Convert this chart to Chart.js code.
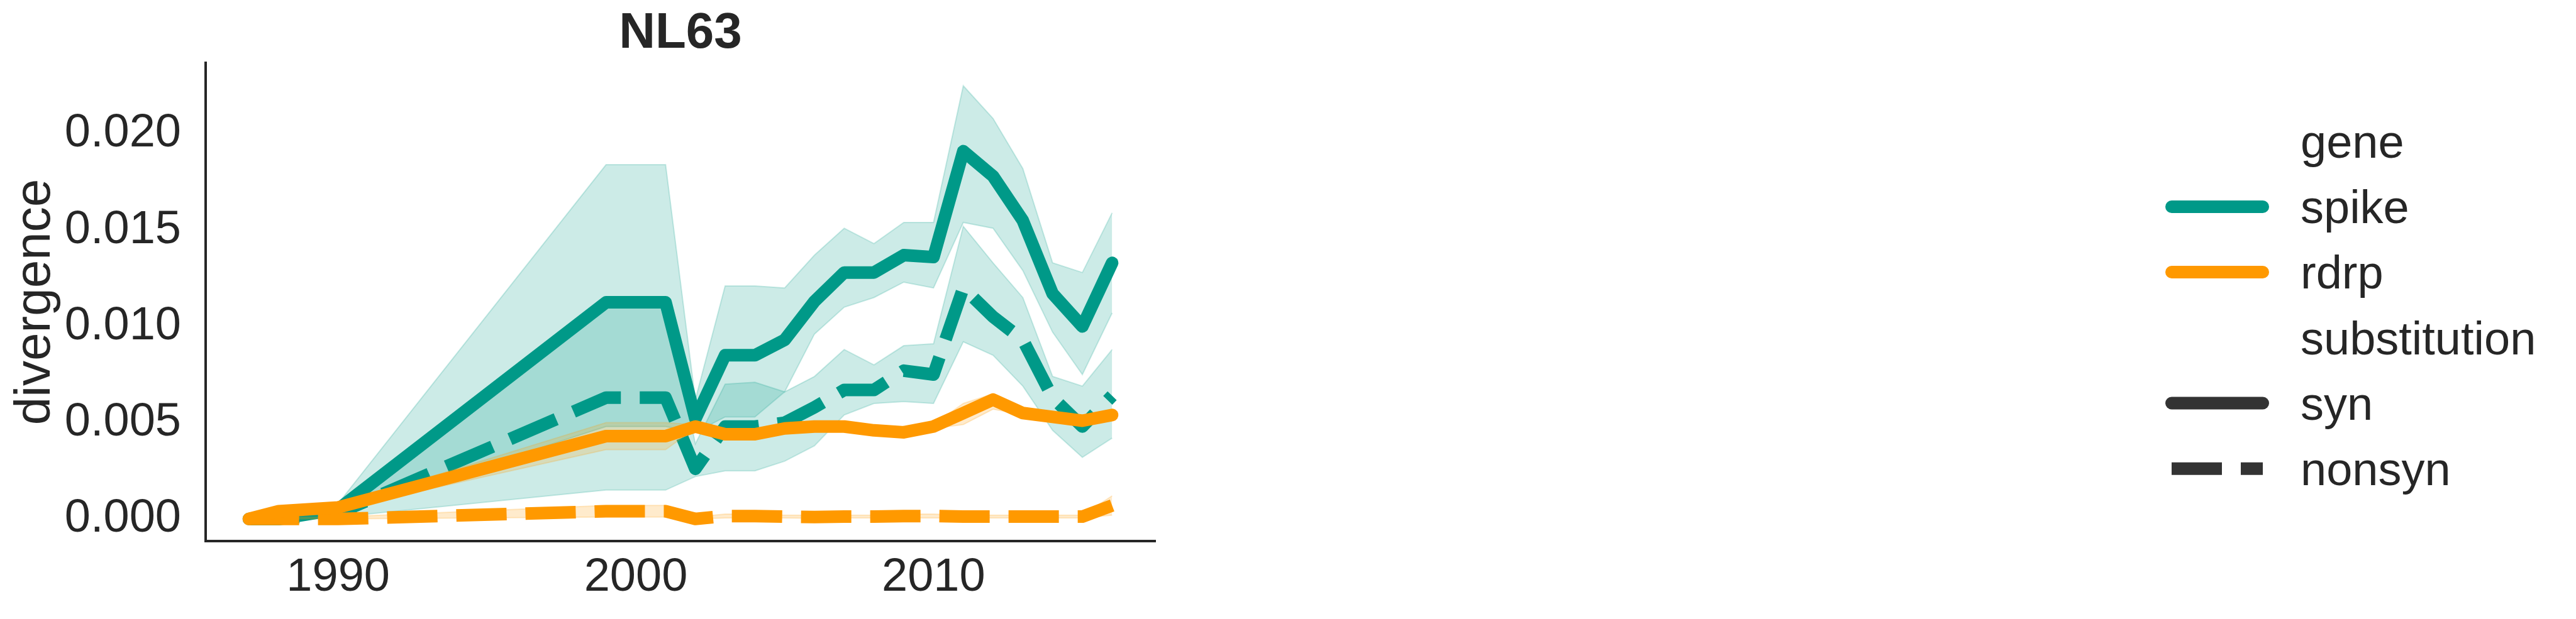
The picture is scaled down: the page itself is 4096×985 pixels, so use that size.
<!DOCTYPE html>
<html>
<head>
<meta charset="utf-8">
<script src="https://cdn.jsdelivr.net/npm/chart.js@4.4.1/dist/chart.umd.min.js"></script>
<style>
html,body{margin:0;padding:0;background:#ffffff;overflow:hidden}
#wrap{position:relative;width:4096px;height:985px}
</style>
</head>
<body>
<div id="wrap"><canvas id="c" width="4096" height="985"></canvas></div>
<script>
// ---------------- data ----------------
const years = [1987, 1988, 1990, 1999, 2001, 2002, 2003, 2004, 2005, 2006, 2007, 2008, 2009, 2010, 2011, 2012, 2013, 2014, 2015, 2016];

const spikeSyn   = [0.0000, 0.0000, 0.0005, 0.01125, 0.01125, 0.0052, 0.0085, 0.0085, 0.0093, 0.0113, 0.0128, 0.0128, 0.0137, 0.0136, 0.0191, 0.0178, 0.0155, 0.0117, 0.0100, 0.0133];
const spikeSynHi = [0.0000, 0.0000, 0.0008, 0.0184, 0.0184, 0.0062, 0.0121, 0.0121, 0.0120, 0.0137, 0.0151, 0.0143, 0.0154, 0.0154, 0.0225, 0.0208, 0.0182, 0.0133, 0.0128, 0.0159];
const spikeSynLo = [0.0000, 0.0000, 0.0003, 0.0048, 0.0048, 0.0045, 0.0053, 0.0053, 0.0066, 0.0096, 0.0110, 0.0115, 0.0123, 0.0120, 0.0154, 0.0151, 0.0129, 0.0097, 0.0075, 0.0107];

const spikeNon   = [0.0000, 0.0000, 0.0003, 0.0063, 0.0063, 0.0026, 0.0048, 0.0048, 0.0050, 0.0058, 0.0067, 0.0067, 0.0077, 0.0075, 0.0120, 0.0105, 0.0093, 0.0063, 0.0048, 0.0064];
const spikeNonHi = [0.0000, 0.0000, 0.0005, 0.0113, 0.0113, 0.0039, 0.0070, 0.0071, 0.0066, 0.0074, 0.0088, 0.0080, 0.0090, 0.0091, 0.0152, 0.0133, 0.0115, 0.0074, 0.0069, 0.0088];
const spikeNonLo = [0.0000, 0.0000, 0.0001, 0.0015, 0.0015, 0.0022, 0.0025, 0.0025, 0.0030, 0.0038, 0.0054, 0.0060, 0.0061, 0.0060, 0.0092, 0.0085, 0.0069, 0.0046, 0.0032, 0.0042];

const rdrpSyn    = [0.0000, 0.0004, 0.0006, 0.0043, 0.0043, 0.0048, 0.0044, 0.0044, 0.0047, 0.0048, 0.0048, 0.0046, 0.0045, 0.0048, 0.0055, 0.0062, 0.0055, 0.0053, 0.0051, 0.0054];
const rdrpSynHi  = [0.0000, 0.0005, 0.0007, 0.0050, 0.0050, 0.0049, 0.0045, 0.0045, 0.0048, 0.0049, 0.0049, 0.0047, 0.0046, 0.0049, 0.0060, 0.0065, 0.0056, 0.0054, 0.0052, 0.0055];
const rdrpSynLo  = [0.0000, 0.0003, 0.0005, 0.0036, 0.0036, 0.0047, 0.0043, 0.0043, 0.0046, 0.0047, 0.0047, 0.0045, 0.0044, 0.0047, 0.0049, 0.0057, 0.0054, 0.0052, 0.0050, 0.0053];

const rdrpNon    = [0.0000, 0.0000, 0.0000, 0.0004, 0.0004, 0.0000, 0.00015, 0.00015, 0.00012, 0.0001, 0.00012, 0.00012, 0.00015, 0.00015, 0.00012, 0.00012, 0.00012, 0.00012, 0.00012, 0.0007];
const rdrpNonHi  = [0.0000, 0.0001, 0.0001, 0.0007, 0.0007, 0.0001, 0.00025, 0.00025, 0.0002, 0.0002, 0.0002, 0.0002, 0.00025, 0.00025, 0.0002, 0.0002, 0.0002, 0.0002, 0.0002, 0.0012];
const rdrpNonLo  = [0.0000, 0.0000, 0.0000, 0.0001, 0.0001, 0.0000, 0.00005, 0.00005, 0.00005, 0.00003, 0.00005, 0.00005, 0.00005, 0.00005, 0.00005, 0.00005, 0.00005, 0.00005, 0.00005, 0.0002];

const xTickValues = [1990, 2000, 2010];
const yTickValues = [0.000, 0.005, 0.010, 0.015, 0.020];
const genes = ['spike', 'rdrp'];
const substitutions = ['syn', 'nonsyn'];
const chartTitle = 'NL63';
const yAxisLabel = 'divergence';
const geneHeader = 'gene';
const substitutionHeader = 'substitution';

// ---------------- styles ----------------
const FONT = "'Liberation Sans', Arial, Helvetica, sans-serif";
const TXT = '#262626';
const TEAL = '#009988';
const ORANGE = '#ff9900';
const GRAY = '#333333';
const TEAL_BAND = 'rgba(0,153,136,0.2)';
const ORANGE_BAND = 'rgba(255,153,0,0.2)';
const LW = 20;
const DASH = [80, 30];

Chart.defaults.font.family = FONT;
Chart.defaults.color = TXT;

function pts(arr) { return years.map((yr, i) => ({ x: yr, y: arr[i] })); }

function bandPair(hi, lo, color, ord) {
  return [
    { data: pts(hi), borderColor: color, backgroundColor: color, borderWidth: 2,
      pointRadius: 0, fill: { target: '+1' }, order: ord, tension: 0 },
    { data: pts(lo), borderColor: color, backgroundColor: color, borderWidth: 2,
      pointRadius: 0, fill: false, order: ord, tension: 0 }
  ];
}
function mainLine(arr, color, dashed, ord) {
  return { data: pts(arr), borderColor: color, backgroundColor: color, borderWidth: LW,
    pointRadius: 0, fill: false, order: ord, tension: 0,
    borderDash: dashed ? DASH : [], borderCapStyle: dashed ? 'butt' : 'round',
    borderJoinStyle: 'round' };
}

const datasets = [
  ...bandPair(spikeSynHi, spikeSynLo, TEAL_BAND, 20),
  ...bandPair(spikeNonHi, spikeNonLo, TEAL_BAND, 20),
  mainLine(spikeSyn, TEAL, false, 15),
  mainLine(spikeNon, TEAL, true, 15),
  ...bandPair(rdrpSynHi, rdrpSynLo, ORANGE_BAND, 10),
  ...bandPair(rdrpNonHi, rdrpNonLo, ORANGE_BAND, 10),
  mainLine(rdrpSyn, ORANGE, false, 5),
  mainLine(rdrpNon, ORANGE, true, 5)
];

const legendPlugin = {
  id: 'customLegend',
  afterDraw(chart) {
    const ctx = chart.ctx;
    const x0 = 3453, x1 = 3598, tx = 3658;
    const rowY = [225, 329, 433, 537.5, 641.5, 745.7];
    const rows = [
      { text: geneHeader },
      { text: genes[0], color: TEAL, dashed: false },
      { text: genes[1], color: ORANGE, dashed: false },
      { text: substitutionHeader },
      { text: substitutions[0], color: GRAY, dashed: false },
      { text: substitutions[1], color: GRAY, dashed: true }
    ];
    ctx.save();
    ctx.font = '74px ' + FONT;
    ctx.fillStyle = TXT;
    ctx.textAlign = 'left';
    ctx.textBaseline = 'alphabetic';
    rows.forEach((r, i) => {
      const y = rowY[i];
      if (r.color) {
        ctx.beginPath();
        ctx.strokeStyle = r.color;
        ctx.lineWidth = LW;
        ctx.setLineDash(r.dashed ? DASH : []);
        ctx.lineCap = r.dashed ? 'butt' : 'round';
        ctx.moveTo(x0, y);
        ctx.lineTo(x1, y);
        ctx.stroke();
      }
      ctx.setLineDash([]);
      ctx.fillText(r.text, tx, y + 26);
    });
    ctx.restore();
  }
};

new Chart(document.getElementById('c'), {
  type: 'line',
  data: { datasets },
  plugins: [legendPlugin],
  options: {
    responsive: false,
    animation: false,
    devicePixelRatio: 1,
    layout: { padding: { left: 0, top: 0, right: 2259, bottom: 0 } },
    plugins: {
      legend: { display: false },
      tooltip: { enabled: false },
      title: {
        display: true, text: chartTitle, fullSize: false, color: TXT,
        font: { size: 80, weight: 'bold', family: FONT, lineHeight: 1.15 },
        padding: { top: 8, bottom: 0 }
      }
    },
    scales: {
      x: {
        type: 'linear', min: 1985.55, max: 2017.45,
        grid: { display: false, drawTicks: false },
        border: { display: true, color: TXT, width: 4 },
        ticks: { font: { size: 74, family: FONT }, color: TXT, padding: 14,
                 callback: v => String(v) },
        afterBuildTicks: s => { s.ticks = xTickValues.map(v => ({ value: v })); },
        afterFit: s => { s.height = 124; }
      },
      y: {
        type: 'linear', min: -0.00115, max: 0.02369,
        grid: { display: false, drawTicks: false },
        border: { display: true, color: TXT, width: 4 },
        ticks: { font: { size: 74, family: FONT }, color: TXT, padding: 39,
                 callback: v => Number(v).toFixed(3) },
        afterBuildTicks: s => { s.ticks = yTickValues.map(v => ({ value: v })); },
        afterFit: s => { s.width = 327; },
        title: { display: true, text: yAxisLabel, color: TXT,
                 font: { size: 80, family: FONT }, padding: { top: 9, bottom: 0 } }
      }
    }
  }
});
</script>
</body>
</html>
